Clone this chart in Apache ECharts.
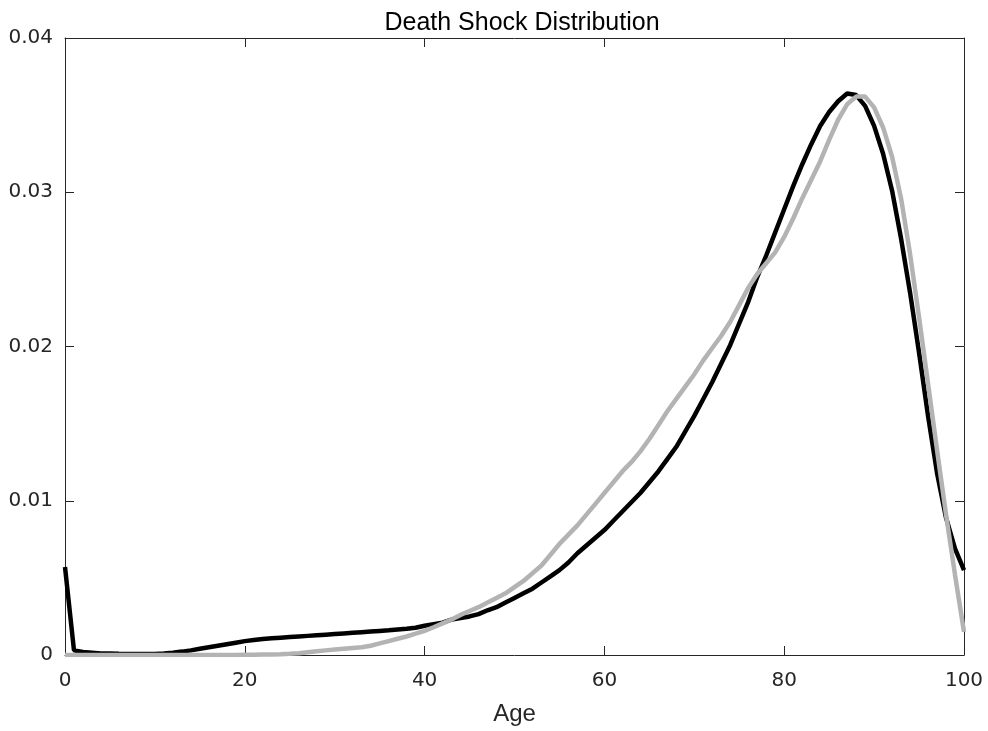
<!DOCTYPE html>
<html><head><meta charset="utf-8">
<script src="https://cdn.jsdelivr.net/npm/echarts@6/dist/echarts.min.js"></script>
<style>html,body{margin:0;padding:0;background:#fff}#c{width:988px;height:731px}</style>
</head><body><div id="c"></div>
<script>
const ages = Array.from({length:101},(_,i)=>i);
const blackVals = [0.0057,0.0003,0.0002,0.00015,0.0001,0.0001,0.00008,0.00007,0.00006,0.00006,
0.00007,0.0001,0.00015,0.00022,0.0003,0.0004,0.0005,0.0006,0.0007,0.0008,
0.0009,0.00097,0.00103,0.00108,0.00112,0.00116,0.0012,0.00124,0.00128,0.00132,
0.00136,0.0014,0.00144,0.00148,0.00152,0.00156,0.0016,0.00165,0.0017,0.00177,
0.0019,0.002,0.0021,0.0023,0.0024,0.0025,0.00265,0.0029,0.0031,0.0034,
0.0037,0.0040,0.0043,0.0047,0.0051,0.0055,0.0060,0.0066,0.0071,0.0076,
0.0081,0.0087,0.0093,0.0099,0.0105,0.0112,0.0119,0.0127,0.0135,0.0145,
0.0155,0.0166,0.0177,0.0189,0.0201,0.0215,0.0229,0.0245,0.0259,0.0274,
0.0289,0.0304,0.0318,0.0331,0.0343,0.0352,0.0359,0.0364,0.0363,0.0356,
0.0343,0.0325,0.0301,0.0270,0.0235,0.0196,0.0155,0.0118,0.0089,0.0069,
0.0055];
const grayVals = [0,0,0,0,0,0,0,0,0,0,
0,0,0,0,0,0,0,0,0,0,
0.00001,0.00002,0.00003,0.00004,0.00005,0.00008,0.00012,0.00018,0.00024,0.0003,
0.00035,0.0004,0.00045,0.0005,0.0006,0.00075,0.0009,0.00105,0.0012,0.00138,
0.00157,0.0018,0.00205,0.0023,0.0026,0.00285,0.0031,0.0034,0.0037,0.004,
0.0044,0.0048,0.0053,0.0058,0.0065,0.0072,0.0078,0.0084,0.0091,0.0098,
0.0105,0.0112,0.0119,0.0125,0.0132,0.014,0.0149,0.0158,0.0166,0.0174,
0.0182,0.0191,0.0199,0.0207,0.0216,0.0227,0.0238,0.0247,0.0254,0.0261,
0.0271,0.0283,0.0296,0.0308,0.032,0.0334,0.0347,0.0357,0.0362,0.0362,
0.0355,0.0342,0.0323,0.0296,0.026,0.0219,0.0176,0.0133,0.0091,0.0052,
0.0015];
const xTicks = ['0','20','40','60','80','100'];
const yTicks = ['0','0.01','0.02','0.03','0.04'];
const titleText = 'Death Shock Distribution';
const xName = 'Age';

const font = 'Liberation Sans, Arial, Helvetica, sans-serif';
const tickFont = 'DejaVu Sans, sans-serif';
const axisCol = '#262626';
const frameLine = {show:true, onZero:false, lineStyle:{color:axisCol, width:1}};
const inTick = {show:true, inside:true, length:9, lineStyle:{color:axisCol, width:1}};
const chart = echarts.init(document.getElementById('c'), null, {renderer:'canvas'});
chart.setOption({
  animation:false,
  backgroundColor:'#fff',
  title:{text:titleText, left:517, top:6, textAlign:'center',
    textStyle:{fontFamily:font, fontSize:25, fontWeight:'normal', color:'#000'}},
  grid:{left:65, right:24, top:38, bottom:76, containLabel:false},
  xAxis:[
    {type:'value', min:0, max:100, interval:20, position:'bottom',
     axisLine:frameLine, axisTick:inTick, splitLine:{show:false},
     axisLabel:{fontFamily:tickFont, fontSize:20, color:axisCol, margin:16, hideOverlap:false,
       formatter:v=>xTicks[Math.round(v/20)]},
     name:xName, nameLocation:'middle', nameGap:47,
     nameTextStyle:{fontFamily:font, fontSize:24, color:axisCol}},
    {type:'value', min:0, max:100, interval:20, position:'top',
     axisLine:frameLine, axisTick:inTick, axisLabel:{show:false}, splitLine:{show:false}}
  ],
  yAxis:[
    {type:'value', min:0, max:0.04, interval:0.01, position:'left',
     axisLine:frameLine, axisTick:inTick, splitLine:{show:false},
     axisLabel:{fontFamily:tickFont, fontSize:20, color:axisCol, margin:12, hideOverlap:false,
       formatter:v=>yTicks[Math.round(v/0.01)]}},
    {type:'value', min:0, max:0.04, interval:0.01, position:'right',
     axisLine:frameLine, axisTick:inTick, axisLabel:{show:false}, splitLine:{show:false}}
  ],
  series:[
    {type:'line', xAxisIndex:0, yAxisIndex:0, showSymbol:false, smooth:false,
     lineStyle:{color:'#000', width:4.5}, data:ages.map((a,i)=>[a,blackVals[i]])},
    {type:'line', xAxisIndex:0, yAxisIndex:0, showSymbol:false, smooth:false,
     lineStyle:{color:'#b3b3b3', width:4.5}, data:ages.map((a,i)=>[a,grayVals[i]])}
  ]
});
</script></body></html>
